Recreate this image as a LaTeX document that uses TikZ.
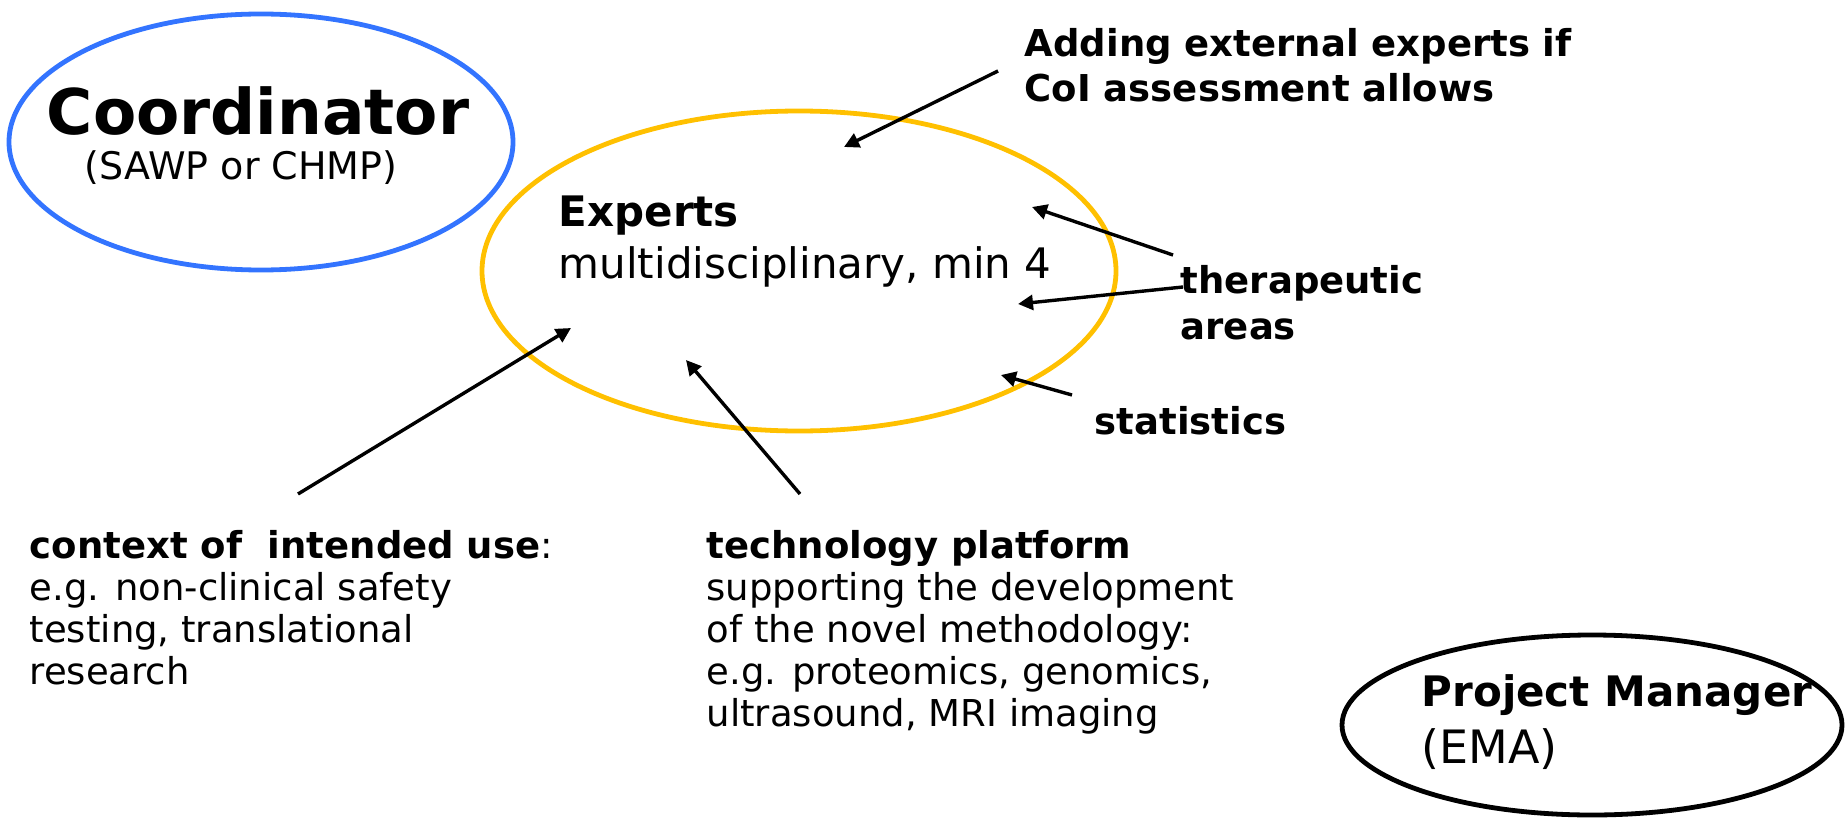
\documentclass[tikz,border=0pt]{standalone}
\usepackage{fontspec}
\setmainfont{DejaVu Sans}
\usetikzlibrary{positioning}
\usetikzlibrary{arrows.meta,shapes.geometric}
\usetikzlibrary{calc}
\definecolor{coordblue}{RGB}{51,116,255}
\definecolor{expyellow}{RGB}{255,192,0}
\newcommand{\fsz}[2]{\fontsize{#1cm}{#2cm}\selectfont}
\tikzstyle{oval}=[ellipse,draw,line width=0.048cm,inner sep=0pt]
\tikzstyle{txt}=[align=left,inner sep=0pt,anchor=base west]
\tikzstyle{pointer}=[draw,line width=0.034cm,-{Triangle[length=0.15cm,width=0.15cm]}]

\begin{document}
\begin{tikzpicture}
\useasboundingbox (0,0) rectangle (18.45,-8.23);

    % the three groups
    \node[oval,draw=coordblue,minimum width=5.04cm,minimum height=2.56cm] (coord) at (2.61,-1.42) {};
    \node[oval,draw=expyellow,minimum width=6.34cm,minimum height=3.2cm] (experts) at (7.99,-2.71) {};
    \node[oval,minimum width=5.0cm,minimum height=1.8cm] (pm) at (15.92,-7.25) {};

    % texts (base = last line)
    \node[inner sep=0pt,anchor=base,font=\bfseries\fsz{0.63}{0.7}] (coordname) at (2.58,-1.35) {Coordinator};
    \node[inner sep=0pt,anchor=base,font=\fsz{0.38}{0.45}] (coordsub) at (2.41,-1.80) {(SAWP or CHMP)};
    \node[txt,font=\fsz{0.42}{0.51}] (exptext) at (5.58,-2.78) {\textbf{Experts}\\multidisciplinary, min 4};
    \node[txt,font=\fsz{0.42}{0.57}] (pmtext) at (14.21,-7.63) {\textbf{Project Manager}\\{\fsz{0.46}{0.57}(EMA)}};

    % who is added
    \node[txt,font=\bfseries\fsz{0.37}{0.45}] (adding) at (10.24,-1.02) {Adding external experts if\\CoI assessment allows};
    \node[txt,font=\bfseries\fsz{0.37}{0.46}] (thera) at (11.80,-3.39) {therapeutic\\areas};
    \node[txt,font=\bfseries\fsz{0.37}{0.45}] (stats) at (10.94,-4.34) {statistics};
    \node[txt,font=\fsz{0.37}{0.42}] (context) at (0.29,-6.84) {\textbf{context of \ intended use}:\\e.g. non-clinical safety\\testing, translational\\research};
    \node[txt,font=\fsz{0.37}{0.42}] (techno) at (7.06,-7.26) {\textbf{technology platform}\\supporting the development\\of the novel methodology:\\e.g. proteomics, genomics,\\ultrasound, MRI imaging};

    % arrow ends
    \coordinate (addtail) at (9.98,-0.71);   \coordinate (addtip) at (8.44,-1.47);
    \coordinate (theratail) at (11.73,-2.55); \coordinate (theratip) at (10.32,-2.07);
    \coordinate (areatail) at (11.83,-2.87);  \coordinate (areatip) at (10.18,-3.04);
    \coordinate (statstail) at (10.72,-3.95); \coordinate (statstip) at (10.01,-3.75);
    \coordinate (ctxtail) at (2.98,-4.94);    \coordinate (ctxtip) at (5.71,-3.28);
    \coordinate (techtail) at (8.00,-4.94);   \coordinate (techtip) at (6.86,-3.60);

    \foreach \tail/\tip in {addtail/addtip, theratail/theratip, areatail/areatip, statstail/statstip, ctxtail/ctxtip, techtail/techtip}
        \path[pointer] (\tail) -- (\tip);

\end{tikzpicture}
\end{document}
